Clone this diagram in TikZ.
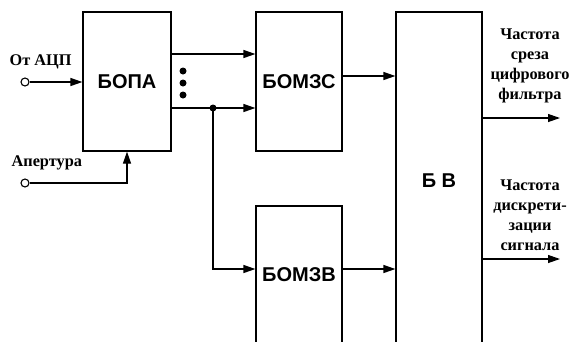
\documentclass[tikz,border=0pt]{standalone}
\usepackage{fontspec}
\setmainfont{Liberation Serif}
\newfontfamily\arialf{Liberation Sans}
\usetikzlibrary{arrows.meta,calc}
\begin{document}
\begin{tikzpicture}[x=1pt,y=-1pt,
  line width=1.2pt,
  blk/.style={draw,rectangle,inner sep=0pt,font=\arialf\bfseries\fontsize{20}{23}\selectfont},
  arr/.style={-{Triangle[length=12pt,width=8pt]}},
  lbl/.style={font=\bfseries\fontsize{16.3}{20}\selectfont,align=center,inner sep=0pt},
  port/.style={circle,draw,fill=white,inner sep=0pt,minimum size=8pt,line width=1.1pt},
  dotn/.style={circle,fill,inner sep=0pt,minimum size=7pt}]
\clip (0,0) rectangle (570,341);
\node[blk,minimum width=88pt,minimum height=139pt] (bopa) at (127,81.5) {БОПА};
\node[blk,minimum width=86pt,minimum height=139pt] (bomzs) at (299,81.5) {БОМЗС};
\node[blk,minimum width=86pt,minimum height=138pt] (bomzv) at (299,275) {БОМЗВ};
\node[blk,minimum width=86pt,minimum height=338pt] (bv) at (439,181) {Б В};
\node[port] (in1) at (25,82) {};
\node[port] (in2) at (25,183) {};
\node[lbl,anchor=west] (t1) at (9,62) {От АЦП};
\node[lbl,anchor=west] (t2) at (11,163) {Апертура};
\draw[arr] (in1) -- (in1 -| bopa.west);
\draw[arr] (in2) -| (bopa.south);
\coordinate (y54) at (0,54);
\coordinate (y108) at (0,108);
\coordinate (y76) at (0,76);
\coordinate (y269) at (0,269);
\draw[arr] (bopa.east |- y54) -- (bomzs.west |- y54);
\draw[arr] (bopa.east |- y108) -- (bomzs.west |- y108);
\node[dotn] (d1) at (183,71) {};
\node[dotn] (d2) at (183,83) {};
\node[dotn] (d3) at (183,95) {};
\node[dotn] (j) at (213,108) {};
\draw[arr] (j.center) |- (bomzv.west |- y269);
\draw[arr] (bomzs.east |- y76) -- (bv.west |- y76);
\draw[arr] (bomzv.east |- y269) -- (bv.west |- y269);
\coordinate (o1) at (560,118);
\coordinate (o2) at (560,259);
\draw[arr] (bv.east |- o1) -- (o1);
\draw[arr] (bv.east |- o2) -- (o2);
\node[lbl,anchor=north] (t3) at (530,28) {Частота\\среза\\цифрового\\фильтра};
\node[lbl,anchor=north] (t4) at (530,179) {Частота\\дискрети-\\зации\\сигнала};
\end{tikzpicture}
\end{document}
